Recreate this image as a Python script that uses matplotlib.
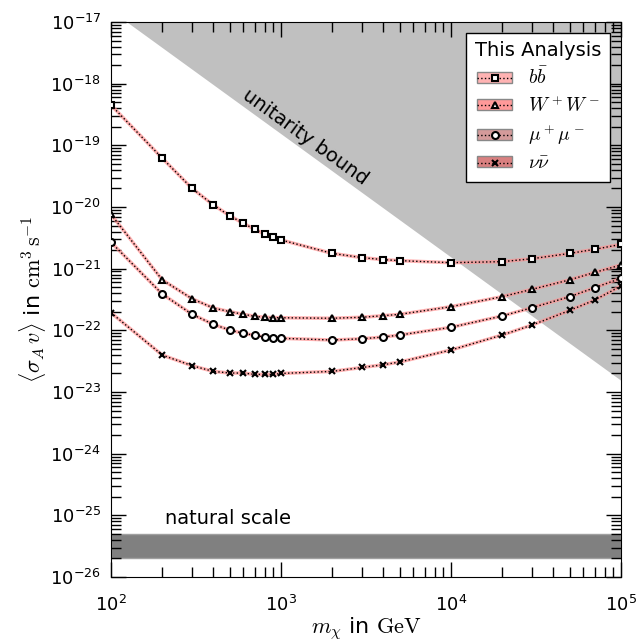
import numpy as np
import matplotlib
matplotlib.use('Agg')
import matplotlib.pyplot as plt
from matplotlib.patches import Patch
from matplotlib.lines import Line2D

plt.rcParams['mathtext.fontset'] = 'cm'
plt.rcParams['axes.unicode_minus'] = False

# masses in GeV
mass = [100, 200, 300, 400, 500, 600, 700, 800, 900, 1000,
        2000, 3000, 4000, 5000, 10000, 20000, 30000, 50000, 70000, 100000]

# limits on <sigma v> in cm^3 s^-1
sv_bb = [4.5e-19, 6.2e-20, 2.0e-20, 1.08e-20, 7.2e-21, 5.45e-21, 4.35e-21, 3.65e-21, 3.27e-21, 2.92e-21,
         1.77e-21, 1.51e-21, 1.40e-21, 1.35e-21, 1.25e-21, 1.30e-21, 1.45e-21, 1.77e-21, 2.06e-21, 2.48e-21]
sv_ww = [7.6e-21, 6.6e-22, 3.25e-22, 2.30e-22, 2.01e-22, 1.82e-22, 1.69e-22, 1.63e-22, 1.61e-22, 1.60e-22,
         1.57e-22, 1.63e-22, 1.73e-22, 1.82e-22, 2.42e-22, 3.52e-22, 4.63e-22, 6.6e-22, 8.7e-22, 1.15e-21]
sv_mumu = [2.68e-21, 3.89e-22, 1.82e-22, 1.25e-22, 1.01e-22, 8.96e-23, 8.3e-23, 7.8e-23, 7.65e-23, 7.43e-23,
           6.97e-23, 7.3e-23, 7.8e-23, 8.4e-23, 1.12e-22, 1.71e-22, 2.33e-22, 3.52e-22, 4.92e-22, 6.99e-22]
sv_nunu = [1.93e-22, 3.98e-23, 2.67e-23, 2.16e-23, 2.03e-23, 2.03e-23, 1.93e-23, 1.93e-23, 1.93e-23, 2.0e-23,
           2.16e-23, 2.5e-23, 2.77e-23, 3.07e-23, 4.8e-23, 8.4e-23, 1.22e-22, 2.11e-22, 3.1e-22, 5.25e-22]

# unitarity bound (two end points, ~ 1/m^2) and natural scale band
unit_m = [100, 100000]
unit_sv = [1.54e-17, 1.54e-23]
nat_lo = 2e-26
nat_hi = 5e-26

labels = [r'$b\bar{b}$', r'$W^+W^-$', r'$\mu^+\mu^-$', r'$\nu\bar{\nu}$']
markers = ['s', '^', 'o', 'x']
fills = ['#ffb3b3', '#ff9999', '#d49a9a', '#d98080']
series = [sv_bb, sv_ww, sv_mumu, sv_nunu]

fig = plt.figure(figsize=(6.36, 6.43), dpi=100)
ax = fig.add_axes([0.1745, 0.1026, 0.802, 0.8632])
ax.set_xscale('log')
ax.set_yscale('log')
ax.set_xlim(1e2, 1e5)
ax.set_ylim(1e-26, 1e-17)

ax.fill_between(unit_m, unit_sv, [1e-16, 1e-16], color='#c0c0c0', lw=0, zorder=1)
ax.fill_between(unit_m, [nat_lo, nat_lo], [nat_hi, nat_hi], facecolor='#808080',
                edgecolor='#a0a0a0', lw=1, zorder=1)

ax.text(1384, 1.36e-19, 'unitarity bound', rotation=-35.8, ha='center', va='center',
        rotation_mode='anchor', fontsize=14)
ax.text(488, 9.0e-26, 'natural scale', ha='center', va='center', fontsize=14)

handles = []
for sv, mk, fc, lab in zip(series, markers, fills, labels):
    ax.plot(mass, sv, color='#ff9090', lw=2.5, alpha=0.7, zorder=2)
    ax.plot(mass, sv, color='k', ls=':', lw=1, marker=mk, ms=5,
            mfc='white' if mk != 'x' else 'k', mec='k', mew=1.5, zorder=3)
    p = Patch(facecolor=fc, edgecolor='#888888', lw=1)
    l = Line2D([], [], color='k', ls=':', lw=1, marker=mk, ms=5,
               mfc='white' if mk != 'x' else 'k', mec='k', mew=1.5)
    handles.append((p, l))

leg = ax.legend(handles, labels, title='This Analysis', loc='upper right',
                fontsize=14, title_fontsize=14, fancybox=False, framealpha=1,
                edgecolor='k', handlelength=1.8, handleheight=0.5, labelspacing=0.35,
                borderaxespad=0.55, borderpad=0.45)
leg.get_frame().set_linewidth(1)

ax.tick_params(which='both', direction='in', top=True, right=True, labelsize=13)
ax.tick_params(which='major', length=11, width=1)
ax.tick_params(which='minor', length=7, width=1)
ax.tick_params(axis='x', pad=13)
ax.tick_params(axis='y', pad=7)

ax.set_xlabel(r'$m_\chi$ in $\mathrm{GeV}$', fontsize=16, labelpad=0)
ax.set_ylabel(r'$\langle\sigma_A\,v\rangle$ in $\mathrm{cm}^3\,\mathrm{s}^{-1}$', fontsize=16, labelpad=2)

fig.savefig('out.png', dpi=100)
